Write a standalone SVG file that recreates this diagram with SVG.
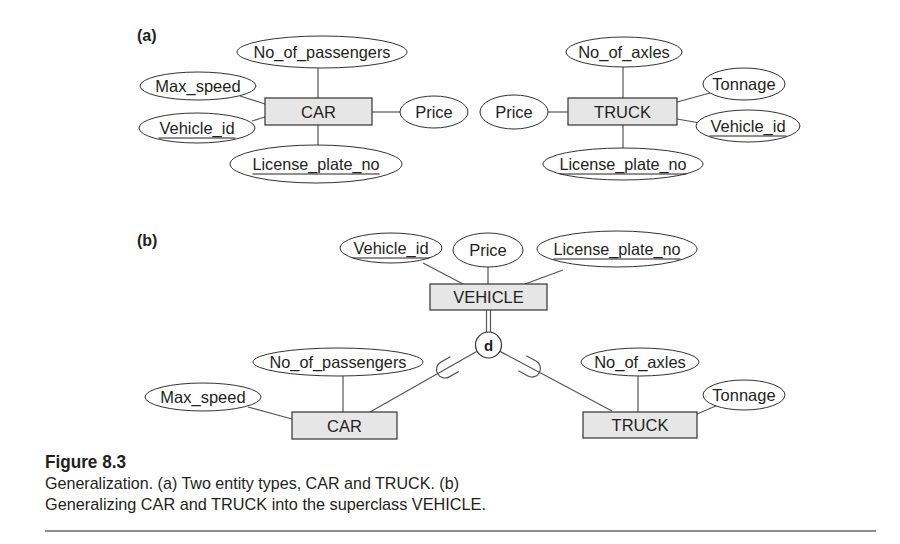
<svg xmlns="http://www.w3.org/2000/svg" width="900" height="544" viewBox="0 0 900 544">
<style>
  .bg{fill:#ffffff}
  .attr{fill:#ffffff;stroke:#333333;stroke-width:1}
  .ent{fill:#e6e6e6;stroke:#333333;stroke-width:1.2}
  .t{font-family:"Liberation Sans",Arial,sans-serif;font-size:16.5px;fill:#231f20;text-anchor:middle}
  .lbl{font-family:"Liberation Sans",Arial,sans-serif;font-size:16px;font-weight:bold;fill:#231f20}
  .ul{stroke:#231f20;stroke-width:1}
  .c{stroke:#555555;stroke-width:1.2;fill:none}
  .cap{font-family:"Liberation Sans",Arial,sans-serif;font-size:17px;fill:#231f20}
  .capb{font-family:"Liberation Sans",Arial,sans-serif;font-size:17.5px;font-weight:bold;fill:#231f20}
</style>
<defs>
  <path id="subset" d="M -11 -8.5 L 0 -8.5 A 8.5 8.5 0 0 1 0 8.5 L -11 8.5" fill="none" stroke="#555555" stroke-width="1.2"/>
</defs>
<rect class="bg" x="0" y="0" width="900" height="544"/>

<text class="lbl" x="137" y="41">(a)</text>
<text class="lbl" x="137" y="246">(b)</text>

<g id="connectors">
  <!-- (a) CAR -->
  <line class="c" x1="318" y1="68" x2="318" y2="98"/>
  <line class="c" x1="240" y1="96" x2="265" y2="104"/>
  <line class="c" x1="252" y1="121" x2="265" y2="117"/>
  <line class="c" x1="372" y1="112" x2="400" y2="112"/>
  <line class="c" x1="318" y1="125" x2="318" y2="145"/>
  <!-- (a) TRUCK -->
  <line class="c" x1="623" y1="67" x2="623" y2="98"/>
  <line class="c" x1="677" y1="102" x2="710" y2="93"/>
  <line class="c" x1="677" y1="119" x2="700" y2="123"/>
  <line class="c" x1="548" y1="112" x2="568" y2="112"/>
  <line class="c" x1="623" y1="125" x2="623" y2="148"/>
  <!-- (b) VEHICLE -->
  <line class="c" x1="423" y1="263" x2="463" y2="284"/>
  <line class="c" x1="488" y1="267" x2="488" y2="284"/>
  <line class="c" x1="563" y1="270" x2="525" y2="284"/>
  <line class="c" x1="486.5" y1="310" x2="486.5" y2="332"/>
  <line class="c" x1="490.5" y1="310" x2="490.5" y2="332"/>
  <line class="c" x1="476.7" y1="351.4" x2="370" y2="412"/>
  <line class="c" x1="499.5" y1="351.1" x2="612" y2="411"/>
  <use href="#subset" transform="translate(445,369.5) rotate(150.4)"/>
  <use href="#subset" transform="translate(532,368.5) rotate(28)"/>
  <!-- (b) CAR / TRUCK -->
  <line class="c" x1="343" y1="376" x2="343" y2="412"/>
  <line class="c" x1="248" y1="407" x2="292" y2="419"/>
  <line class="c" x1="638" y1="376" x2="638" y2="412"/>
  <line class="c" x1="718" y1="405" x2="697" y2="414"/>
</g>

<!-- (a) CAR -->
<g id="a_car">
  <rect class="ent" x="265" y="98" width="107" height="27"/>
  <text class="t" x="318.5" y="117.8">CAR</text>
</g>
<g id="a_car_no_of_passengers">
  <ellipse class="attr" cx="322" cy="52" rx="85" ry="16"/>
  <text class="t" x="322" y="57.8" textLength="137" lengthAdjust="spacingAndGlyphs">No_of_passengers</text>
</g>
<g id="a_car_max_speed">
  <ellipse class="attr" cx="198" cy="86" rx="58" ry="14"/>
  <text class="t" x="198" y="91.8">Max_speed</text>
</g>
<g id="a_car_vehicle_id">
  <ellipse class="attr" cx="197" cy="128" rx="58" ry="15"/>
  <text class="t" x="197" y="133.8">Vehicle_id</text>
  <line class="ul" x1="158.5" y1="138" x2="235.5" y2="138"/>
</g>
<g id="a_car_price">
  <ellipse class="attr" cx="434" cy="112" rx="34" ry="16"/>
  <text class="t" x="434" y="117.8">Price</text>
</g>
<g id="a_car_license_plate_no">
  <ellipse class="attr" cx="316" cy="164" rx="86" ry="19"/>
  <text class="t" x="316" y="169.8" textLength="127" lengthAdjust="spacingAndGlyphs">License_plate_no</text>
  <line class="ul" x1="252.5" y1="174" x2="379.5" y2="174"/>
</g>

<!-- (a) TRUCK -->
<g id="a_truck">
  <rect class="ent" x="568" y="98" width="109" height="27"/>
  <text class="t" x="622.5" y="117.8">TRUCK</text>
</g>
<g id="a_truck_no_of_axles">
  <ellipse class="attr" cx="624" cy="52" rx="58" ry="15"/>
  <text class="t" x="624" y="57.8">No_of_axles</text>
</g>
<g id="a_truck_tonnage">
  <ellipse class="attr" cx="744" cy="84" rx="41" ry="16"/>
  <text class="t" x="744" y="89.8">Tonnage</text>
</g>
<g id="a_truck_price">
  <ellipse class="attr" cx="514" cy="112" rx="34" ry="17"/>
  <text class="t" x="514" y="117.8">Price</text>
</g>
<g id="a_truck_vehicle_id">
  <ellipse class="attr" cx="748" cy="126" rx="52" ry="16"/>
  <text class="t" x="748" y="131.8">Vehicle_id</text>
  <line class="ul" x1="709.5" y1="136" x2="786.5" y2="136"/>
</g>
<g id="a_truck_license_plate_no">
  <ellipse class="attr" cx="623" cy="164" rx="80" ry="16"/>
  <text class="t" x="623" y="169.8" textLength="127" lengthAdjust="spacingAndGlyphs">License_plate_no</text>
  <line class="ul" x1="559.5" y1="174" x2="686.5" y2="174"/>
</g>

<!-- (b) -->
<g id="b_vehicle">
  <rect class="ent" x="430" y="284" width="117" height="26"/>
  <text class="t" x="488.5" y="302.8">VEHICLE</text>
</g>
<g id="b_vehicle_id">
  <ellipse class="attr" cx="391" cy="248" rx="51" ry="15"/>
  <text class="t" x="391" y="253.8">Vehicle_id</text>
  <line class="ul" x1="352.5" y1="258" x2="429.5" y2="258"/>
</g>
<g id="b_price">
  <ellipse class="attr" cx="488" cy="250" rx="35" ry="17"/>
  <text class="t" x="488" y="255.8">Price</text>
</g>
<g id="b_license_plate_no">
  <ellipse class="attr" cx="617" cy="249" rx="80" ry="18"/>
  <text class="t" x="617" y="254.8" textLength="127" lengthAdjust="spacingAndGlyphs">License_plate_no</text>
  <line class="ul" x1="553.5" y1="259" x2="680.5" y2="259"/>
</g>
<g id="b_d">
  <circle cx="488.5" cy="345" r="13" fill="#ffffff" stroke="#333333" stroke-width="1.2"/>
  <text x="488.5" y="350.5" style="font-family:'Liberation Sans',Arial,sans-serif;font-size:15px;font-weight:bold;fill:#231f20;text-anchor:middle">d</text>
</g>
<g id="b_car">
  <rect class="ent" x="292" y="412" width="105" height="27"/>
  <text class="t" x="344.5" y="431.8">CAR</text>
</g>
<g id="b_car_no_of_passengers">
  <ellipse class="attr" cx="338" cy="362" rx="85" ry="14"/>
  <text class="t" x="338" y="367.8" textLength="137" lengthAdjust="spacingAndGlyphs">No_of_passengers</text>
</g>
<g id="b_car_max_speed">
  <ellipse class="attr" cx="203" cy="397" rx="58" ry="14"/>
  <text class="t" x="203" y="402.8">Max_speed</text>
</g>
<g id="b_truck">
  <rect class="ent" x="583" y="412" width="114" height="26"/>
  <text class="t" x="640" y="430.8">TRUCK</text>
</g>
<g id="b_truck_no_of_axles">
  <ellipse class="attr" cx="640" cy="362" rx="59" ry="14"/>
  <text class="t" x="640" y="367.8">No_of_axles</text>
</g>
<g id="b_truck_tonnage">
  <ellipse class="attr" cx="744" cy="395" rx="41" ry="15"/>
  <text class="t" x="744" y="400.8">Tonnage</text>
</g>

<g id="caption">
  <text class="capb" x="45" y="468" textLength="81" lengthAdjust="spacingAndGlyphs">Figure 8.3</text>
  <text class="cap" x="45" y="489" textLength="414" lengthAdjust="spacingAndGlyphs">Generalization. (a) Two entity types, CAR and TRUCK. (b)</text>
  <text class="cap" x="45" y="510" textLength="441" lengthAdjust="spacingAndGlyphs">Generalizing CAR and TRUCK into the superclass VEHICLE.</text>
  <line x1="45" y1="531" x2="876" y2="531" stroke="#231f20" stroke-width="1.2"/>
</g>
</svg>
